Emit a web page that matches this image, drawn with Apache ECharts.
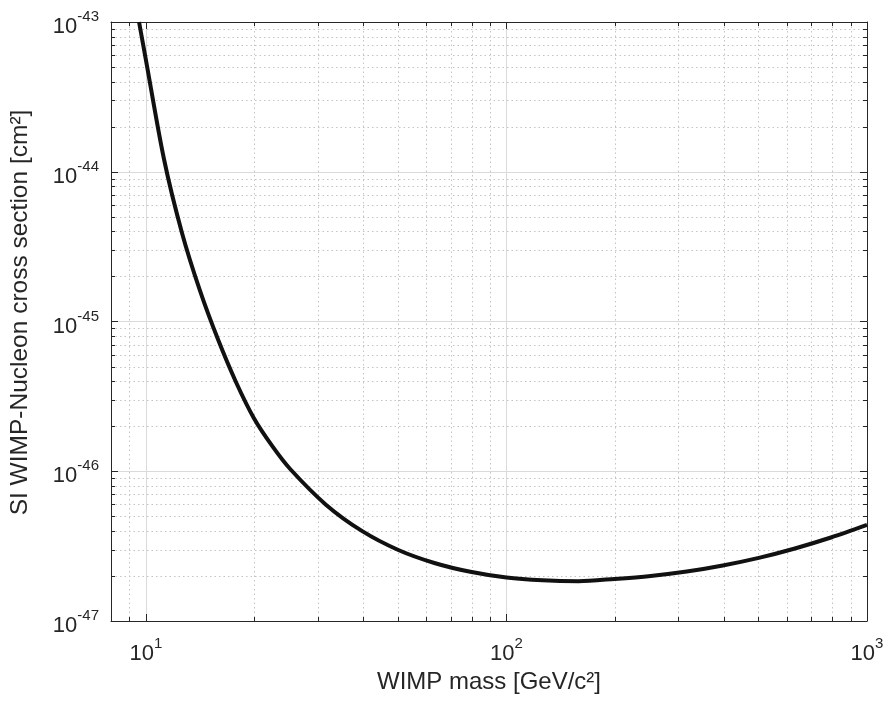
<!DOCTYPE html>
<html>
<head>
<meta charset="utf-8">
<script src="https://cdn.jsdelivr.net/npm/echarts@6/dist/echarts.min.js"></script>
<style>
  html, body { margin: 0; padding: 0; background: #fff; }
  #chart { width: 889px; height: 703px; }
</style>
</head>
<body>
<div id="chart"></div>
<script>
// WIMP mass [GeV/c^2] and limit [cm^2]
var mass = [9.57, 10, 11.22, 12.59, 14.13, 15.85, 17.78, 19.95, 22.39, 25.12, 31.62, 39.81,
    50.12, 63.1, 79.4, 100, 125.9, 158.5, 199.5, 251.2, 316.2, 398.1, 501.2, 631, 794.3, 1000];
var sigma = [1e-43, 5.57e-44, 1.216e-44, 3.90e-45, 1.60e-45, 7.57e-46, 3.93e-46, 2.25e-46, 1.476e-46, 1.035e-46, 5.96e-47, 3.98e-47,
    2.98e-47, 2.44e-47, 2.13e-47, 1.95e-47, 1.87e-47, 1.845e-47, 1.91e-47, 2.0e-47, 2.14e-47, 2.35e-47, 2.64e-47, 3.05e-47, 3.61e-47, 4.38e-47];

var xMin = 8, xMax = 1000;
var yMin = 1e-47, yMax = 1e-43;
// minor grid positions (matlab style log grid)
var xMinor = [9, 20, 30, 40, 50, 60, 70, 80, 90, 200, 300, 400, 500, 600, 700, 800, 900];
var yMinor = [2e-47, 3e-47, 4e-47, 5e-47, 6e-47, 7e-47, 8e-47, 9e-47,
    2e-46, 3e-46, 4e-46, 5e-46, 6e-46, 7e-46, 8e-46, 9e-46,
    2e-45, 3e-45, 4e-45, 5e-45, 6e-45, 7e-45, 8e-45, 9e-45,
    2e-44, 3e-44, 4e-44, 5e-44, 6e-44, 7e-44, 8e-44, 9e-44];

// echarts rounds tiny numbers to 0, so the y axis works in units of 1e-47 cm^2
var UNIT_EXP = -47;
function toUnit(v) { return v * 1e47; }

var font = 'Arial, "Liberation Sans", Helvetica, sans-serif';
var ink = '#262626';

function powLabel(v, shift) {
    var e = Math.log10(v);
    var r = Math.round(e);
    if (Math.abs(e - r) > 1e-6) return '';
    return '{b|10}{s|' + (r + shift) + '}';
}
var richPow = {
    b: {fontSize: 22, fontFamily: font, color: ink, padding: [10, 0, 0, 0]},
    s: {fontSize: 15, fontFamily: font, color: ink, padding: [0, 0, 10, 0]}
};

var lineData = mass.map(function (m, i) { return [m, toUnit(sigma[i])]; });
var yLo = toUnit(yMin), yHi = toUnit(yMax);

function minorX(params, api) {
    var cs = params.coordSys;
    var x = Math.round(api.coord([api.value(0), yLo])[0]) + 0.5;
    var top = cs.y, bot = cs.y + cs.height;
    return {type: 'group', children: [
        {type: 'line', shape: {x1: x, y1: top, x2: x, y2: bot}, style: {stroke: '#c4c4c4', lineWidth: 1, lineDash: [1.5, 3]}},
        {type: 'line', shape: {x1: x, y1: bot, x2: x, y2: bot - 4}, style: {stroke: ink, lineWidth: 1}},
        {type: 'line', shape: {x1: x, y1: top, x2: x, y2: top + 4}, style: {stroke: ink, lineWidth: 1}}
    ]};
}
function minorY(params, api) {
    var cs = params.coordSys;
    var y = Math.round(api.coord([xMin, api.value(1)])[1]) + 0.5;
    var l = cs.x, r = cs.x + cs.width;
    return {type: 'group', children: [
        {type: 'line', shape: {x1: l, y1: y, x2: r, y2: y}, style: {stroke: '#c4c4c4', lineWidth: 1, lineDash: [1.5, 3]}},
        {type: 'line', shape: {x1: l, y1: y, x2: l + 4, y2: y}, style: {stroke: ink, lineWidth: 1}},
        {type: 'line', shape: {x1: r, y1: y, x2: r - 4, y2: y}, style: {stroke: ink, lineWidth: 1}}
    ]};
}

var option = {
    backgroundColor: '#fff',
    animation: false,
    grid: {left: 107, right: 22, top: 22, bottom: 82},
    xAxis: [{
        type: 'log', logBase: 10, min: xMin, max: xMax,
        name: 'WIMP mass [GeV/c²]', nameLocation: 'middle', nameGap: 45,
        nameTextStyle: {fontSize: 24, fontFamily: font, color: ink},
        axisLine: {lineStyle: {color: ink, width: 1}},
        axisTick: {inside: true, length: 7, lineStyle: {color: ink}},
        axisLabel: {margin: 12, formatter: function (v) { return powLabel(v, 0); }, rich: richPow, showMinLabel: false},
        splitLine: {show: true, lineStyle: {color: '#dadada', width: 1}}
    }, {
        type: 'log', logBase: 10, min: xMin, max: xMax, position: 'top',
        axisLine: {lineStyle: {color: ink, width: 1}},
        axisTick: {inside: true, length: 7, lineStyle: {color: ink}},
        axisLabel: {show: false}, splitLine: {show: false}
    }],
    yAxis: [{
        type: 'log', logBase: 10, min: yLo, max: yHi,
        name: 'SI WIMP-Nucleon cross section [cm²]', nameLocation: 'middle', nameGap: 78, nameRotate: 90,
        nameTextStyle: {fontSize: 24.5, fontFamily: font, color: ink, padding: [0, 0, 0, 18]},
        axisLine: {show: true, lineStyle: {color: ink, width: 1}},
        axisTick: {show: true, inside: true, length: 7, lineStyle: {color: ink}},
        axisLabel: {margin: 12, formatter: function (v) { return powLabel(v, UNIT_EXP); }, rich: richPow},
        splitLine: {show: true, lineStyle: {color: '#dadada', width: 1}}
    }, {
        type: 'log', logBase: 10, min: yLo, max: yHi, position: 'right',
        axisLine: {show: true, lineStyle: {color: ink, width: 1}},
        axisTick: {show: true, inside: true, length: 7, lineStyle: {color: ink}},
        axisLabel: {show: false}, splitLine: {show: false}
    }],
    series: [{
        type: 'custom', silent: true, z: 1,
        renderItem: minorX,
        data: xMinor.map(function (v) { return [v, yLo]; })
    }, {
        type: 'custom', silent: true, z: 1,
        renderItem: minorY,
        data: yMinor.map(function (v) { return [xMin, toUnit(v)]; })
    }, {
        type: 'line', z: 5,
        data: lineData,
        smooth: 0.3,
        showSymbol: false,
        lineStyle: {color: '#111', width: 4}
    }]
};

var myChart = echarts.init(document.getElementById('chart'));
myChart.setOption(option);
</script>
</body>
</html>
